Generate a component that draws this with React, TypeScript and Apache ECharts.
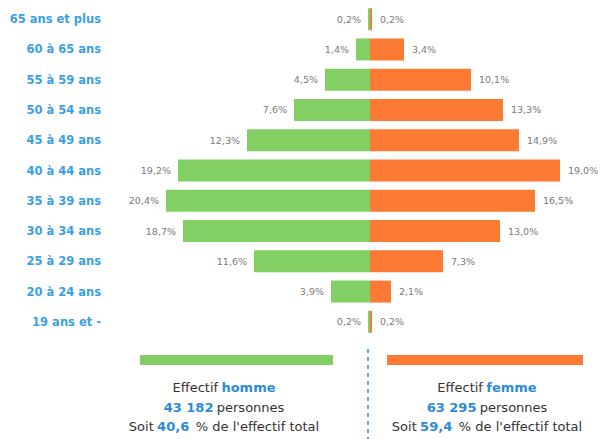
import React, { useEffect, useRef } from "react";
import * as echarts from "echarts";

const categories = [
  "65 ans et plus",
  "60 à 65 ans",
  "55 à 59 ans",
  "50 à 54 ans",
  "45 à 49 ans",
  "40 à 44 ans",
  "35 à 39 ans",
  "30 à 34 ans",
  "25 à 29 ans",
  "20 à 24 ans",
  "19 ans et -",
];
const hommes = [0.2, 1.4, 4.5, 7.6, 12.3, 19.2, 20.4, 18.7, 11.6, 3.9, 0.2];
const femmes = [0.2, 3.4, 10.1, 13.3, 14.9, 19.0, 16.5, 13.0, 7.3, 2.1, 0.2];
const effectifHomme = "43 182";
const effectifFemme = "63 295";
const pctHomme = "40,6";
const pctFemme = "59,4";

const GREEN = "#82cf64";
const ORANGE = "#fc7a33";
const BLUE = "#2d8ad6";
const DARK = "#333333";

const fmt = (v: number) => Math.abs(v).toFixed(1).replace(".", ",") + "%";

export default function App() {
  const ref = useRef<HTMLDivElement>(null);
  useEffect(() => {
    document.body.style.margin = "0";
    if (!ref.current) return;
    const chart = echarts.init(ref.current, undefined, { renderer: "svg" });
    const legendText = (label: string, count: string, pct: string) =>
      `{d|Effectif} {b|${label}}\n{b|${count}} {d|personnes}\n{d|Soit} {b|${pct}}  {d|% de l'effectif total}`;
    const rich = {
      d: { fill: DARK, fontSize: 13, fontFamily: "DejaVu Sans", lineHeight: 19.5 },
      b: { fill: BLUE, fontSize: 13, fontFamily: "DejaVu Sans", fontWeight: "bold", lineHeight: 19.5 },
    };
    chart.setOption({
      animation: false,
      grid: { left: 150, right: 18, top: 4, height: 333 },
      xAxis: { type: "value", min: -22, max: 22, show: false },
      yAxis: {
        type: "category",
        data: categories,
        inverse: true,
        axisLine: { show: false, onZero: false },
        axisTick: { show: false },
        axisLabel: {
          margin: 49,
          color: "#3a9fe6",
          fontWeight: "bold",
          fontSize: 11.5,
          fontFamily: "DejaVu Sans",
        },
      },
      series: [
        {
          type: "bar",
          name: "Effectif homme",
          stack: "pyr",
          barWidth: 22,
          data: hommes.map((v) => -v),
          itemStyle: { color: GREEN },
          label: {
            show: true,
            position: "left",
            distance: 7,
            color: "#7a7a7a",
            fontSize: 9.5,
            fontFamily: "DejaVu Sans",
            formatter: (p: any) => fmt(p.value),
          },
        },
        {
          type: "bar",
          name: "Effectif femme",
          stack: "pyr",
          barWidth: 22,
          data: femmes,
          itemStyle: { color: ORANGE },
          label: {
            show: true,
            position: "right",
            distance: 8,
            color: "#7a7a7a",
            fontSize: 9.5,
            fontFamily: "DejaVu Sans",
            formatter: (p: any) => fmt(p.value),
          },
        },
      ],
      graphic: [
        { type: "rect", shape: { x: 140, y: 355, width: 193, height: 10 }, style: { fill: GREEN } },
        { type: "rect", shape: { x: 387, y: 355, width: 196, height: 10 }, style: { fill: ORANGE } },
        {
          type: "line",
          shape: { x1: 368, y1: 349, x2: 368, y2: 439 },
          style: { stroke: BLUE, lineWidth: 1.5, lineDash: [4, 4] },
        },
        {
          type: "text",
          x: 224,
          y: 378,
          style: { text: legendText("homme", effectifHomme, pctHomme), rich, align: "center" },
        },
        {
          type: "text",
          x: 487,
          y: 378,
          style: { text: legendText("femme", effectifFemme, pctFemme), rich, align: "center" },
        },
      ],
    });
    return () => chart.dispose();
  }, []);
  return <div ref={ref} style={{ width: 608, height: 439 }} />;
}
